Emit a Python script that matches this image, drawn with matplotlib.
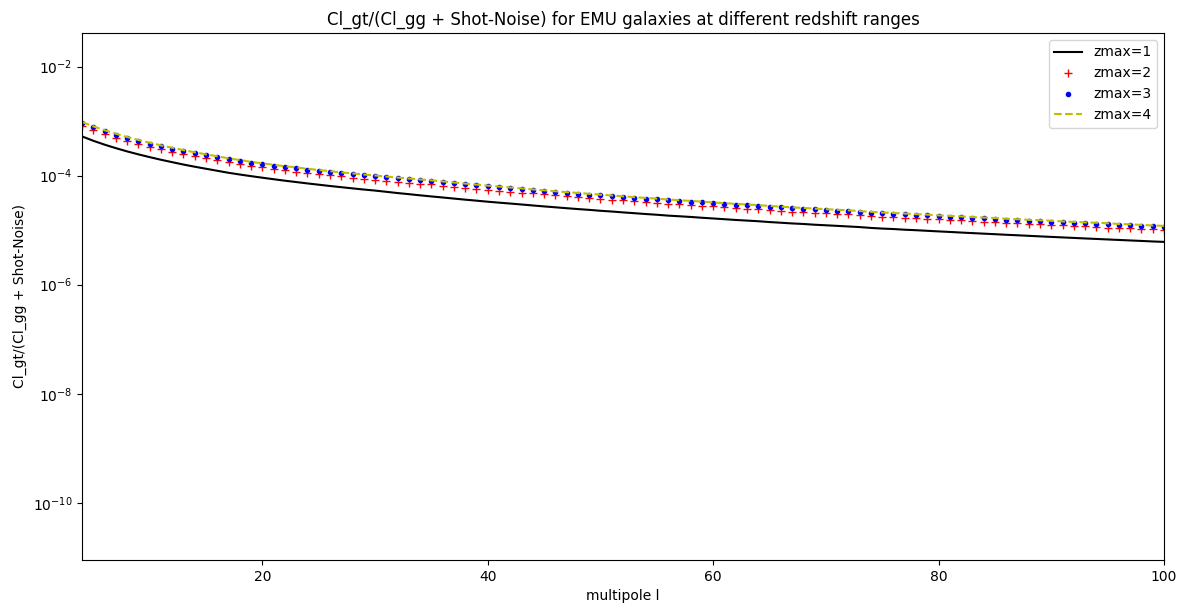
import numpy as np
import matplotlib
matplotlib.use('Agg')
import matplotlib.pyplot as plt

# multipoles 4..100
ell = list(range(4, 101))

# Cl_gt/(Cl_gg + N) for each redshift cut
snr_z1 = [5.25e-4, 4.37e-4, 3.71e-4, 3.20e-4, 2.79e-4, 2.46e-4, 2.19e-4, 1.96e-4, 1.77e-4, 1.60e-4,
          1.46e-4, 1.34e-4, 1.23e-4, 1.13e-4, 1.05e-4, 9.80e-5, 9.18e-5, 8.61e-5, 8.09e-5, 7.64e-5,
          7.21e-5, 6.83e-5, 6.47e-5, 6.15e-5, 5.85e-5, 5.57e-5, 5.33e-5, 5.06e-5, 4.80e-5, 4.58e-5,
          4.36e-5, 4.16e-5, 3.98e-5, 3.80e-5, 3.63e-5, 3.48e-5, 3.33e-5, 3.20e-5, 3.08e-5, 2.96e-5,
          2.84e-5, 2.73e-5, 2.63e-5, 2.53e-5, 2.44e-5, 2.36e-5, 2.27e-5, 2.20e-5, 2.12e-5, 2.05e-5,
          1.98e-5, 1.92e-5, 1.85e-5, 1.80e-5, 1.75e-5, 1.69e-5, 1.64e-5, 1.59e-5, 1.54e-5, 1.50e-5,
          1.46e-5, 1.41e-5, 1.37e-5, 1.33e-5, 1.30e-5, 1.26e-5, 1.23e-5, 1.20e-5, 1.17e-5, 1.14e-5,
          1.10e-5, 1.07e-5, 1.05e-5, 1.02e-5, 9.99e-6, 9.74e-6, 9.50e-6, 9.28e-6, 9.05e-6, 8.84e-6,
          8.64e-6, 8.44e-6, 8.24e-6, 8.06e-6, 7.88e-6, 7.70e-6, 7.53e-6, 7.37e-6, 7.21e-6, 7.05e-6,
          6.91e-6, 6.76e-6, 6.62e-6, 6.48e-6, 6.35e-6, 6.21e-6, 6.10e-6]
snr_z2 = [8.13e-4, 6.77e-4, 5.75e-4, 4.96e-4, 4.32e-4, 3.81e-4, 3.39e-4, 3.03e-4, 2.74e-4, 2.47e-4,
          2.26e-4, 2.07e-4, 1.91e-4, 1.75e-4, 1.63e-4, 1.51e-4, 1.42e-4, 1.33e-4, 1.25e-4, 1.19e-4,
          1.12e-4, 1.07e-4, 1.02e-4, 9.67e-5, 9.23e-5, 8.80e-5, 8.47e-5, 8.11e-5, 7.77e-5, 7.46e-5,
          7.18e-5, 6.90e-5, 6.60e-5, 6.31e-5, 6.03e-5, 5.78e-5, 5.53e-5, 5.32e-5, 5.10e-5, 4.91e-5,
          4.71e-5, 4.54e-5, 4.36e-5, 4.20e-5, 4.06e-5, 3.91e-5, 3.77e-5, 3.65e-5, 3.52e-5, 3.40e-5,
          3.29e-5, 3.19e-5, 3.07e-5, 2.99e-5, 2.90e-5, 2.81e-5, 2.72e-5, 2.63e-5, 2.56e-5, 2.49e-5,
          2.42e-5, 2.35e-5, 2.27e-5, 2.20e-5, 2.15e-5, 2.10e-5, 2.05e-5, 1.99e-5, 1.94e-5, 1.88e-5,
          1.83e-5, 1.78e-5, 1.74e-5, 1.70e-5, 1.65e-5, 1.62e-5, 1.58e-5, 1.54e-5, 1.51e-5, 1.46e-5,
          1.44e-5, 1.40e-5, 1.37e-5, 1.34e-5, 1.31e-5, 1.28e-5, 1.25e-5, 1.22e-5, 1.19e-5, 1.17e-5,
          1.15e-5, 1.12e-5, 1.10e-5, 1.08e-5, 1.05e-5, 1.03e-5, 1.01e-5]
snr_z3 = [9.33e-4, 7.77e-4, 6.60e-4, 5.69e-4, 4.96e-4, 4.37e-4, 3.89e-4, 3.48e-4, 3.15e-4, 2.84e-4,
          2.60e-4, 2.38e-4, 2.19e-4, 2.01e-4, 1.87e-4, 1.73e-4, 1.63e-4, 1.53e-4, 1.44e-4, 1.37e-4,
          1.29e-4, 1.23e-4, 1.17e-4, 1.11e-4, 1.06e-4, 1.01e-4, 9.72e-5, 9.31e-5, 8.92e-5, 8.57e-5,
          8.24e-5, 7.92e-5, 7.58e-5, 7.25e-5, 6.92e-5, 6.64e-5, 6.35e-5, 6.11e-5, 5.86e-5, 5.64e-5,
          5.41e-5, 5.21e-5, 5.00e-5, 4.82e-5, 4.66e-5, 4.49e-5, 4.33e-5, 4.19e-5, 4.04e-5, 3.90e-5,
          3.78e-5, 3.66e-5, 3.53e-5, 3.43e-5, 3.33e-5, 3.23e-5, 3.12e-5, 3.02e-5, 2.94e-5, 2.86e-5,
          2.78e-5, 2.70e-5, 2.61e-5, 2.53e-5, 2.47e-5, 2.41e-5, 2.35e-5, 2.29e-5, 2.23e-5, 2.16e-5,
          2.10e-5, 2.04e-5, 2.00e-5, 1.95e-5, 1.90e-5, 1.86e-5, 1.81e-5, 1.77e-5, 1.73e-5, 1.68e-5,
          1.65e-5, 1.61e-5, 1.57e-5, 1.54e-5, 1.50e-5, 1.47e-5, 1.44e-5, 1.40e-5, 1.37e-5, 1.34e-5,
          1.32e-5, 1.29e-5, 1.26e-5, 1.24e-5, 1.21e-5, 1.18e-5, 1.16e-5]
snr_z4 = [9.66e-4, 8.04e-4, 6.83e-4, 5.89e-4, 5.13e-4, 4.52e-4, 4.03e-4, 3.60e-4, 3.26e-4, 2.94e-4,
          2.69e-4, 2.46e-4, 2.27e-4, 2.08e-4, 1.94e-4, 1.79e-4, 1.69e-4, 1.58e-4, 1.49e-4, 1.42e-4,
          1.34e-4, 1.27e-4, 1.21e-4, 1.15e-4, 1.10e-4, 1.05e-4, 1.01e-4, 9.64e-5, 9.23e-5, 8.87e-5,
          8.53e-5, 8.20e-5, 7.85e-5, 7.50e-5, 7.16e-5, 6.87e-5, 6.57e-5, 6.32e-5, 6.07e-5, 5.84e-5,
          5.60e-5, 5.39e-5, 5.18e-5, 4.99e-5, 4.82e-5, 4.65e-5, 4.48e-5, 4.34e-5, 4.18e-5, 4.04e-5,
          3.91e-5, 3.79e-5, 3.65e-5, 3.55e-5, 3.45e-5, 3.34e-5, 3.23e-5, 3.13e-5, 3.04e-5, 2.96e-5,
          2.88e-5, 2.79e-5, 2.70e-5, 2.62e-5, 2.56e-5, 2.49e-5, 2.43e-5, 2.37e-5, 2.31e-5, 2.24e-5,
          2.17e-5, 2.11e-5, 2.07e-5, 2.02e-5, 1.97e-5, 1.93e-5, 1.87e-5, 1.83e-5, 1.79e-5, 1.74e-5,
          1.71e-5, 1.67e-5, 1.62e-5, 1.59e-5, 1.55e-5, 1.52e-5, 1.49e-5, 1.45e-5, 1.42e-5, 1.39e-5,
          1.37e-5, 1.34e-5, 1.30e-5, 1.28e-5, 1.25e-5, 1.22e-5, 1.20e-5]

fig = plt.figure(figsize=(11.87, 6.05), dpi=100)
ax = fig.add_axes([0.0691, 0.0744, 0.9115, 0.8711])

ax.plot(ell, snr_z1, 'k-', label='zmax=1')
ax.plot(ell, snr_z2, 'r+', label='zmax=2')
ax.plot(ell, snr_z3, 'b.', label='zmax=3')
ax.plot(ell, snr_z4, 'y--', label='zmax=4')

ax.set_yscale('log')
ax.set_xlim(4, 100)
ax.set_ylim(8.9e-12, 4.15e-2)
ax.set_xlabel('multipole l')
ax.set_ylabel('Cl_gt/(Cl_gg + Shot-Noise)')
ax.set_title('Cl_gt/(Cl_gg + Shot-Noise) for EMU galaxies at different redshift ranges')
ax.legend(loc='upper right')

fig.savefig('out.png', dpi=100)
